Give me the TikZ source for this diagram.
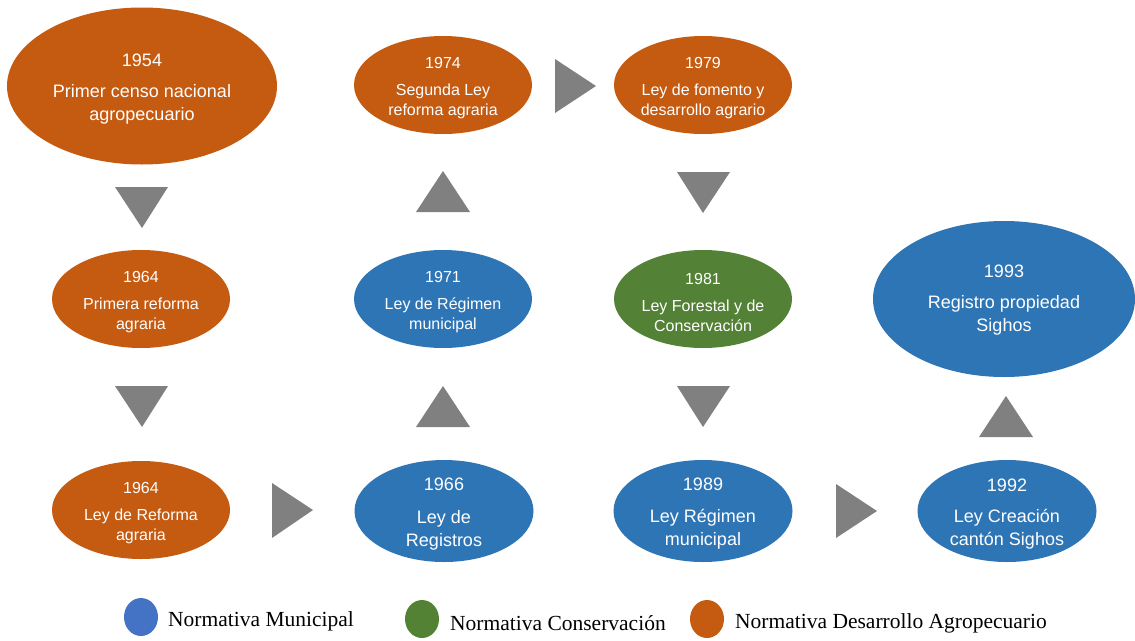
\documentclass[tikz,border=0pt]{standalone}
\usepackage{fontspec}
\setmainfont{Liberation Serif}
\newfontfamily\arialf{Liberation Sans}
\usetikzlibrary{shapes.geometric}
\definecolor{cOr}{HTML}{C55A11}
\definecolor{cBl}{HTML}{2E75B6}
\definecolor{cGr}{HTML}{538135}
\definecolor{lBl}{HTML}{4472C4}
\definecolor{lGr}{HTML}{548235}
\definecolor{cTr}{HTML}{808080}
\tikzset{
  ev/.style={ellipse, draw=none, inner sep=0pt},
  small/.style={ev, minimum width=178pt, minimum height=98pt},
  mid/.style={ev, minimum width=179pt, minimum height=102pt},
  big/.style={ev, minimum width=270pt, minimum height=157pt},
  txt/.style={text=white, align=center, inner sep=0pt, yshift=-3pt},
  stxt/.style={txt, font=\arialf\fontsize{16}{19.5}\selectfont},
  btxt/.style={txt, font=\arialf\fontsize{18}{23}\selectfont},
  tri/.style={fill=cTr, draw=none},
  leg/.style={ellipse, draw=none, minimum width=34pt, minimum height=38pt, inner sep=0pt},
  legt/.style={anchor=west, inner sep=0pt, font=\fontsize{21.5}{24}\selectfont}
}
\begin{document}
\begin{tikzpicture}[x=1pt,y=-1pt]
\useasboundingbox (0,0) rectangle (1135,640);
% ellipses
\node[big, fill=cOr] (n1954) at (142,86) {};
\node[small, fill=cOr] (n1964a) at (141,299) {};
\node[small, fill=cOr] (n1964b) at (141,510) {};
\node[small, fill=cOr] (n1974) at (443,85) {};
\node[small, fill=cOr] (n1979) at (703,85) {};
\node[small, fill=cBl] (n1971) at (443,299) {};
\node[small, fill=cGr] (n1981) at (703,299) {};
\node[mid, fill=cBl] (n1966) at (444,511) {};
\node[mid, fill=cBl] (n1989) at (703,511) {};
\node[mid, fill=cBl] (n1992) at (1007,511) {};
\node[big, fill=cBl, minimum width=262pt, minimum height=156pt] (n1993) at (1004,299) {};
% texts
\node[btxt] (t1954) at (n1954) {1954\\[8pt]Primer censo nacional\\agropecuario};
\node[stxt] (t1964a) at (n1964a) {1964\\[8pt]Primera reforma\\agraria};
\node[stxt] (t1964b) at (n1964b) {1964\\[8pt]Ley de Reforma\\agraria};
\node[stxt] (t1974) at (n1974) {1974\\[8pt]Segunda Ley\\reforma agraria};
\node[stxt] (t1979) at (n1979) {1979\\[8pt]Ley de fomento y\\desarrollo agrario};
\node[stxt] (t1971) at (n1971) {1971\\[8pt]Ley de Régimen\\municipal};
\node[stxt] (t1981) at (n1981) {1981\\[8pt]Ley Forestal y de\\Conservación};
\node[btxt] (t1966) at (n1966) {1966\\[10pt]Ley de\\Registros};
\node[btxt] (t1989) at (n1989) {1989\\[9pt]Ley Régimen\\municipal};
\node[btxt] (t1992) at (n1992) {1992\\[8pt]Ley Creación\\cantón Sighos};
\node[btxt, yshift=1.5pt] (t1993) at (n1993) {1993\\[8pt]Registro propiedad\\Sighos};
% triangles (down)
\fill[tri] (115,187) -- (168,187) -- (142,228) -- cycle;
\fill[tri] (115,386) -- (168,386) -- (142,427) -- cycle;
\fill[tri] (677,172) -- (730,172) -- (703,213) -- cycle;
\fill[tri] (677,386) -- (730,386) -- (703,427) -- cycle;
% triangles (up)
\fill[tri] (416,427) -- (470,427) -- (443,386) -- cycle;
\fill[tri] (416,212) -- (470,212) -- (443,171) -- cycle;
\fill[tri] (979,437) -- (1033,437) -- (1006,396) -- cycle;
% triangles (right)
\fill[tri] (272,483) -- (272,538) -- (313,510) -- cycle;
\fill[tri] (555,59) -- (555,113) -- (596,86) -- cycle;
\fill[tri] (836,484) -- (836,538) -- (877,511) -- cycle;
% legend
\node[leg, fill=lBl] (l1) at (141,617) {};
\node[legt] (lt1) at (168,621) {Normativa Municipal};
\node[leg, fill=lGr] (l2) at (422,619) {};
\node[legt] (lt2) at (450,623) {Normativa Conservación};
\node[leg, fill=cOr] (l3) at (707,619) {};
\node[legt] (lt3) at (735,623) {Normativa Desarrollo Agropecuario};
\end{tikzpicture}
\end{document}
